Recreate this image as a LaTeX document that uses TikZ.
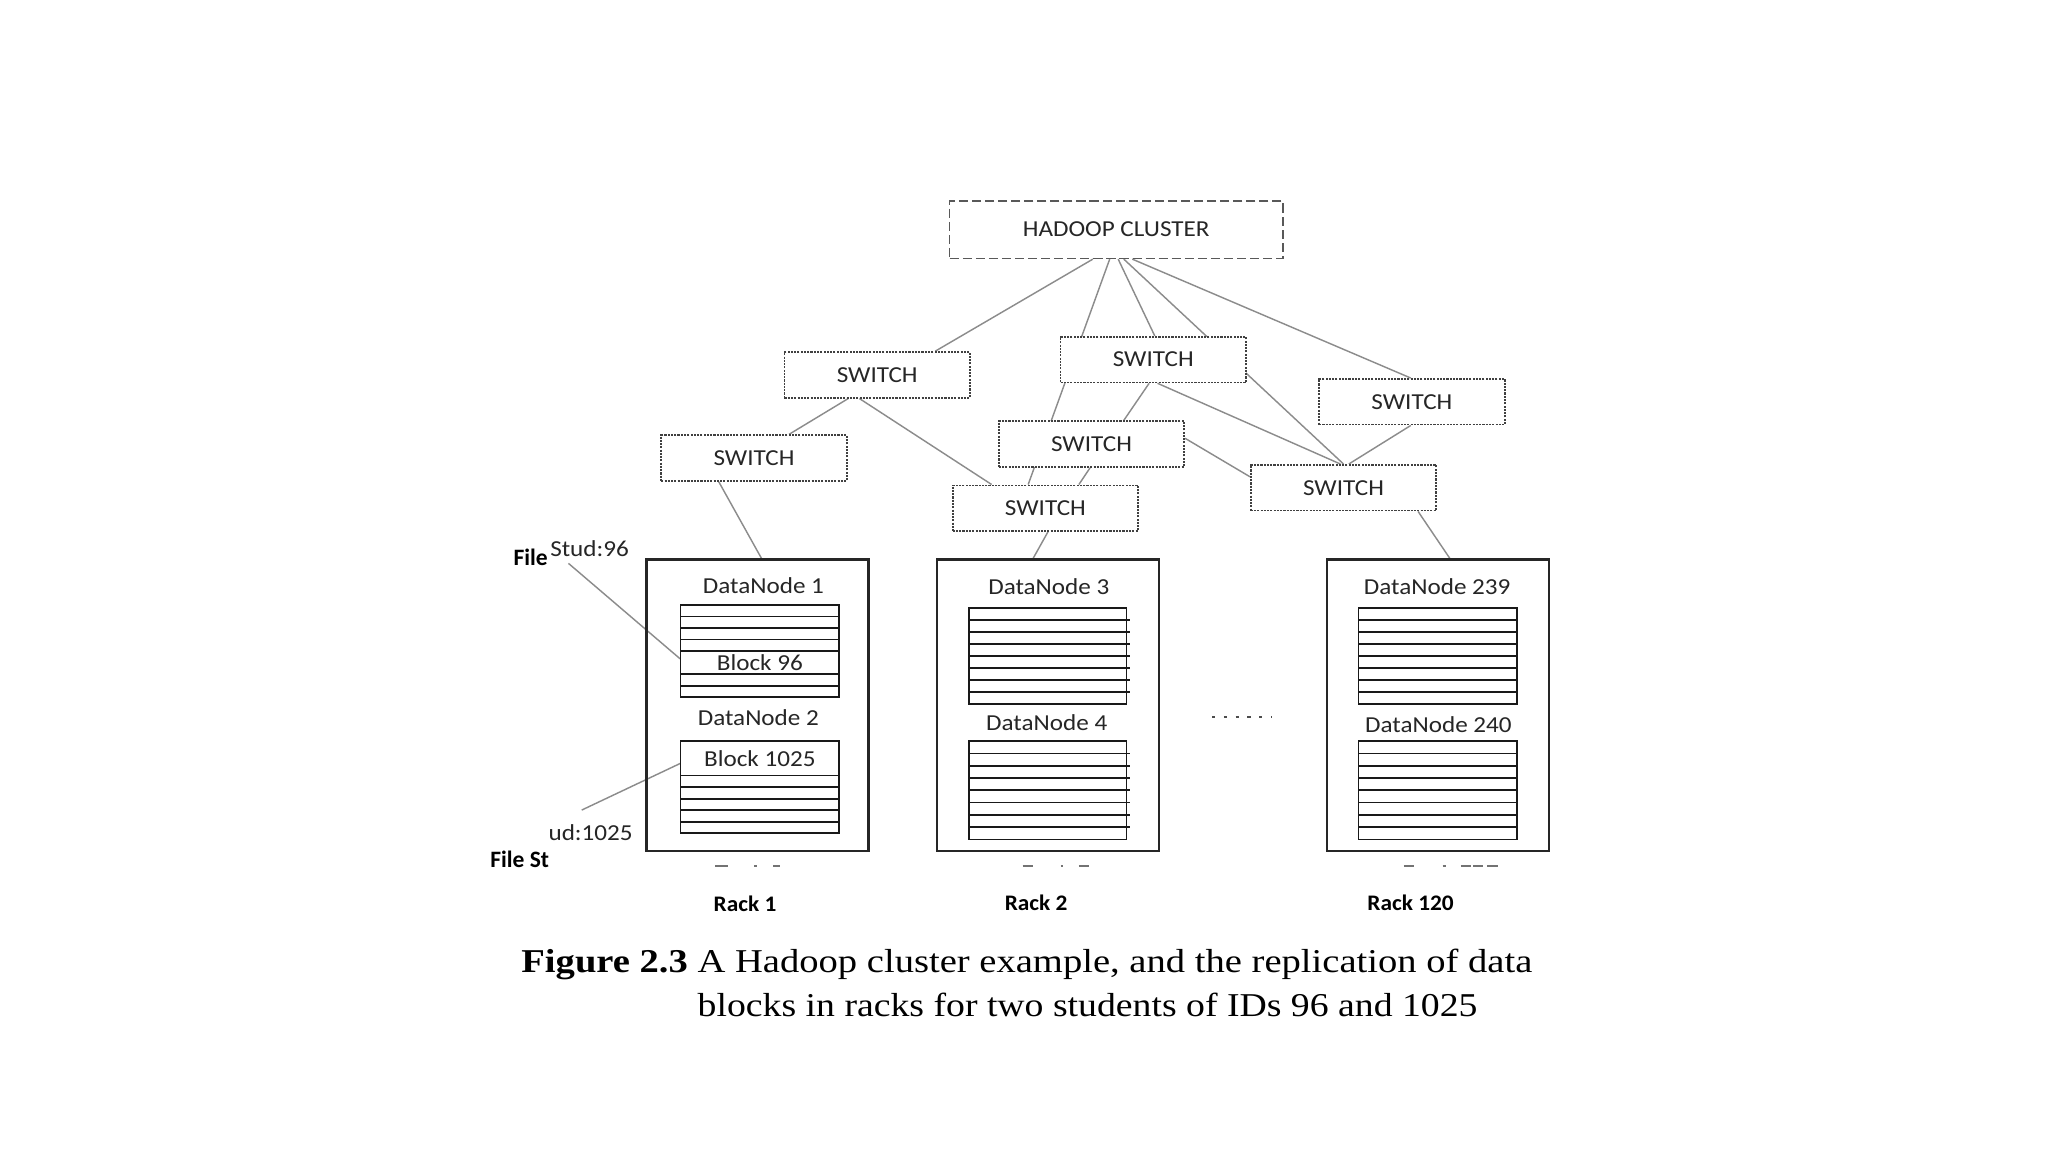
\documentclass[tikz,border=0pt]{standalone}
\usepackage{fontspec}
\usepackage{graphicx}
\usetikzlibrary{backgrounds}
\newfontfamily\diagfont{Carlito}
\newfontfamily\captfont{Liberation Serif}
\newcommand\hstr[1]{\scalebox{1.1}[1]{#1}}
\begin{document}
\begin{tikzpicture}[x=1pt,y=-1pt,
  conn/.style={draw=black!45,line width=1.1pt},
  switchbox/.style={draw=black!75,line width=1.3pt,dash pattern=on 1.6pt off 0.9pt,fill=white,
    minimum width=142pt,minimum height=35pt,inner sep=0pt,
    font=\diagfont\fontsize{17.5}{20}\selectfont,text=black!85},
  clusterbox/.style={draw=black!65,line width=1.2pt,dash pattern=on 7pt off 3pt,fill=white,
    minimum width=255pt,minimum height=44pt,inner sep=0pt,
    font=\diagfont\fontsize{17.5}{20}\selectfont,text=black!85},
  rackbox/.style={draw=black!85,line width=1.7pt,minimum width=170pt,minimum height=223pt,inner sep=0pt},
  stackbox/.style={draw=black!90,line width=1.3pt,inner sep=0pt},
  stackline/.style={draw=black!90,line width=1.3pt},
  lbl/.style={font=\diagfont\fontsize{17.5}{20}\selectfont,text=black!85,inner sep=0pt},
  blbl/.style={font=\diagfont\bfseries\fontsize{18}{20}\selectfont,text=black,inner sep=0pt},
  racklbl/.style={font=\diagfont\bfseries\fontsize{17}{20}\selectfont,text=black,inner sep=0pt},
  frag/.style={draw=black!55,line width=1.8pt},
]
\useasboundingbox (0,0) rectangle (1568,882);

% cluster and switches
\node[clusterbox] (H) at (854.6,175.8) {\hstr{HADOOP CLUSTER}};
\node[switchbox] (A) at (671.6,287.0) {\hstr{SWITCH}};
\node[switchbox] (B) at (883.0,275.3) {\hstr{SWITCH}};
\node[switchbox] (C) at (1081.0,307.6) {\hstr{SWITCH}};
\node[switchbox] (D) at (577.3,350.7) {\hstr{SWITCH}};
\node[switchbox] (E) at (835.7,340.0) {\hstr{SWITCH}};
\node[switchbox] (F) at (800.4,389.1) {\hstr{SWITCH}};
\node[switchbox] (G) at (1028.6,373.4) {\hstr{SWITCH}};

% racks
\node[rackbox] (r1) at (580.0,539.85) {};
\node[rackbox] (r2) at (802.4,539.85) {};
\node[rackbox] (r3) at (1100.8,539.85) {};

% data node labels
\node[lbl] (dn1) at (584.5,448.7) {\hstr{DataNode 1}};
\node[lbl] (dn2) at (580.6,549.5) {\hstr{DataNode 2}};
\node[lbl] (dn3) at (803.0,449.2) {\hstr{DataNode 3}};
\node[lbl] (dn4) at (801.4,553.4) {\hstr{DataNode 4}};
\node[lbl] (dn239) at (1100.3,449.2) {\hstr{DataNode 239}};
\node[lbl] (dn240) at (1101.3,554.6) {\hstr{DataNode 240}};

% block stacks
\node[stackbox,minimum width=121.7pt,minimum height=70.7pt] (s1) at (581.75,498.55) {};
\foreach \k in {1,2,3,4,6,7} {\draw[stackline] (520.9,{463.2+\k*8.8375}) -- (642.6,{463.2+\k*8.8375});}
\node[lbl,minimum width=121.7pt,minimum height=17.7pt] (b96) at (581.75,507.4) {\hstr{Block 96}};

\node[stackbox,minimum width=121.7pt,minimum height=70.7pt] (s2) at (581.75,602.65) {};
\foreach \k in {3,...,7} {\draw[stackline] (520.9,{567.3+\k*8.8375}) -- (642.6,{567.3+\k*8.8375});}
\node[lbl,minimum width=121.7pt,minimum height=26.5pt] (b1025) at (581.75,580.55) {\hstr{Block 1025}};

\node[stackbox,minimum width=120.6pt,minimum height=73.8pt] (s3) at (802.1,502.2) {};
\foreach \k in {1,...,7} {\draw[stackline] (741.8,{465.3+\k*9.225}) -- (865,{465.3+\k*9.225});}
\node[stackbox,minimum width=120.6pt,minimum height=75.3pt] (s4) at (802.1,605.05) {};
\foreach \k in {1,...,7} {\draw[stackline] (741.8,{567.4+\k*9.4125}) -- (865,{567.4+\k*9.4125});}

\node[stackbox,minimum width=121.3pt,minimum height=73.8pt] (s5) at (1100.65,502.2) {};
\foreach \k in {1,...,7} {\draw[stackline] (1040,{465.3+\k*9.225}) -- (1161.3,{465.3+\k*9.225});}
\node[stackbox,minimum width=121.3pt,minimum height=75.3pt] (s6) at (1100.65,605.05) {};
\foreach \k in {1,...,7} {\draw[stackline] (1040,{567.4+\k*9.4125}) -- (1161.3,{567.4+\k*9.4125});}

% ellipsis between racks
\draw[black!70,line width=1.2pt,dash pattern=on 2.5pt off 6.5pt] (928,548.8) -- (974,548.8);

% file labels
\node[blbl,anchor=base west] (file1) at (393.0,432.6) {File};
\node[lbl,anchor=base west] (stud1) at (421.1,425.7) {\hstr{Stud:96}};
\node[lbl,anchor=base west] (stud2) at (419.8,643.7) {\hstr{ud:1025}};
\node[blbl,anchor=base west] (file2) at (375.2,664.4) {File St};
\coordinate (f1) at (435.2,431.3);
\coordinate (f2) at (445.4,620.2);

% rack labels
\node[racklbl,anchor=base] (rk1) at (570.4,697.5) {\scalebox{1.05}[1]{Rack 1}};
\node[racklbl,anchor=base] (rk2) at (793.3,697.3) {\scalebox{1.05}[1]{Rack 2}};
\node[racklbl,anchor=base] (rk3) at (1080.0,697.3) {\scalebox{1.05}[1]{Rack 120}};

% clipped fragments under racks
\draw[frag] (547.6,663.2) -- (557.5,663.2) (577.5,663.2) -- (579.9,663.2) (592,663.2) -- (597,663.2);
\draw[frag] (783,663.2) -- (791,663.2) (812.3,663.2) -- (814.2,663.2) (826,663.2) -- (834,663.2);
\draw[frag] (1074.8,663.2) -- (1082.8,663.2) (1104.5,663.2) -- (1106.7,663.2) (1118.5,663.2) -- (1125.9,663.2)
  (1128,663.2) -- (1135.4,663.2) (1138.6,663.2) -- (1146.6,663.2);

% caption
\node[anchor=base west,inner sep=0pt] (cap1) at (399,744.8)
  {\resizebox{774pt}{\height}{\captfont\fontsize{25.5}{30}\selectfont\textbf{Figure 2.3} A Hadoop cluster example, and the replication of data}};
\node[anchor=base west,inner sep=0pt] (cap2) at (534,778)
  {\resizebox{597pt}{\height}{\captfont\fontsize{25.5}{30}\selectfont blocks in racks for two students of IDs 96 and 1025}};

\begin{pgfonlayer}{background}
\fill[white] (0,0) rectangle (1568,882);
\draw[conn] ([xshift=-17.9pt]H.south) -- ([xshift=44.5pt]A.north);
\draw[conn] ([xshift=-5pt]H.south) -- ([xshift=-13.2pt]F.north);
\draw[conn] ([xshift=1.5pt]H.south) -- ([xshift=1.1pt]B.north);
\draw[conn] ([xshift=5.8pt]H.south) -- (G.north);
\draw[conn] ([xshift=12.3pt]H.south) -- ([xshift=-0.9pt]C.north);
\draw[conn] ([xshift=-22.2pt]A.south) -- ([xshift=26.8pt]D.north);
\draw[conn] ([xshift=-13.6pt]A.south) -- ([xshift=-41.2pt]F.north);
\draw[conn] ([xshift=-3.2pt]B.south) -- ([xshift=24.7pt]E.north);
\draw[conn] ([xshift=3.2pt]B.south) -- ([xshift=-2.4pt]G.north);
\draw[conn] ([yshift=4.4pt]E.east) -- ([yshift=8.4pt]G.west);
\draw[conn] ([xshift=-0.9pt]C.south) -- ([xshift=4.1pt]G.north);
\draw[conn] ([xshift=-1.1pt]E.south) -- ([xshift=25.6pt]F.north);
\draw[conn] ([xshift=-27pt]D.south) -- ([xshift=3pt]r1.north);
\draw[conn] ([xshift=1.9pt]F.south) -- ([xshift=-11.4pt]r2.north);
\draw[conn] ([xshift=57.1pt]G.south) -- ([xshift=9.2pt]r3.north);
\draw[conn] (f1) -- ([yshift=3pt]b96.west);
\draw[conn] (f2) -- ([yshift=-4pt]b1025.west);
\end{pgfonlayer}
\end{tikzpicture}
\end{document}
